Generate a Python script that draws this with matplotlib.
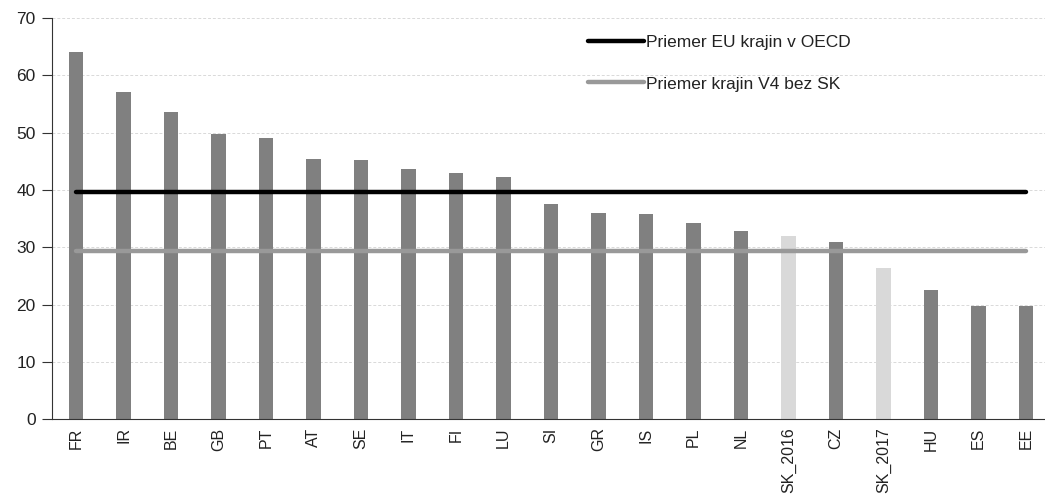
import matplotlib.pyplot as plt

plt.rcParams['font.family'] = ['Liberation Sans', 'DejaVu Sans']

# --- DATA ---
countries = ['FR', 'IR', 'BE', 'GB', 'PT', 'AT', 'SE', 'IT', 'FI', 'LU', 'SI',
             'GR', 'IS', 'PL', 'NL', 'SK_2016', 'CZ', 'SK_2017', 'HU', 'ES', 'EE']
values = [64.1, 57.0, 53.6, 49.7, 49.0, 45.4, 45.3, 43.6, 43.0, 42.3, 37.6,
          36.0, 35.8, 34.2, 32.8, 31.9, 30.9, 26.3, 22.5, 19.8, 19.8]
highlight = ['SK_2016', 'SK_2017']

eu_oecd_avg = 39.6
v4_avg = 29.4
eu_label = 'Priemer EU krajin v OECD'
v4_label = 'Priemer krajin V4 bez SK'

# --- PLOT ---
fig = plt.figure(figsize=(10.45, 4.99), dpi=100)
ax = fig.add_axes([0.05, 0.16, 0.95, 0.804])

x = list(range(len(countries)))
colors = ['#d9d9d9' if c in highlight else '#808080' for c in countries]
ax.bar(x, values, width=0.3, color=colors, zorder=2)

ax.plot([x[0], x[-1]], [eu_oecd_avg] * 2, color='black', lw=3.2,
        solid_capstyle='round', label=eu_label, zorder=3)
ax.plot([x[0], x[-1]], [v4_avg] * 2, color='#999999', lw=3.2,
        solid_capstyle='round', label=v4_label, zorder=3)

ax.set_xlim(-0.5, 20.4)
ax.set_ylim(0, 70)
ax.set_yticks(range(0, 71, 10))
ax.set_xticks(x)
ax.set_xticklabels(countries, rotation=90)

ax.yaxis.grid(True, linestyle=(0, (3, 2)), color='#d9d9d9', lw=0.7, zorder=0)
for s in ['top', 'right']:
    ax.spines[s].set_visible(False)
ax.spines['left'].set_color('#333333')
ax.spines['bottom'].set_color('#333333')
ax.tick_params(axis='y', length=7, color='#333333', labelsize=12.5, pad=5,
               labelcolor='#222222')
ax.tick_params(axis='x', length=0, labelsize=11.5, pad=6, labelcolor='#222222')

leg = ax.legend(loc='upper left', bbox_to_anchor=(0.54, 0.957), frameon=False,
                fontsize=12.5, handlelength=3.2, handletextpad=0.1,
                labelspacing=1.5, borderpad=0, borderaxespad=0)
for t in leg.get_texts():
    t.set_color('#222222')

fig.savefig('out.png', dpi=100)
